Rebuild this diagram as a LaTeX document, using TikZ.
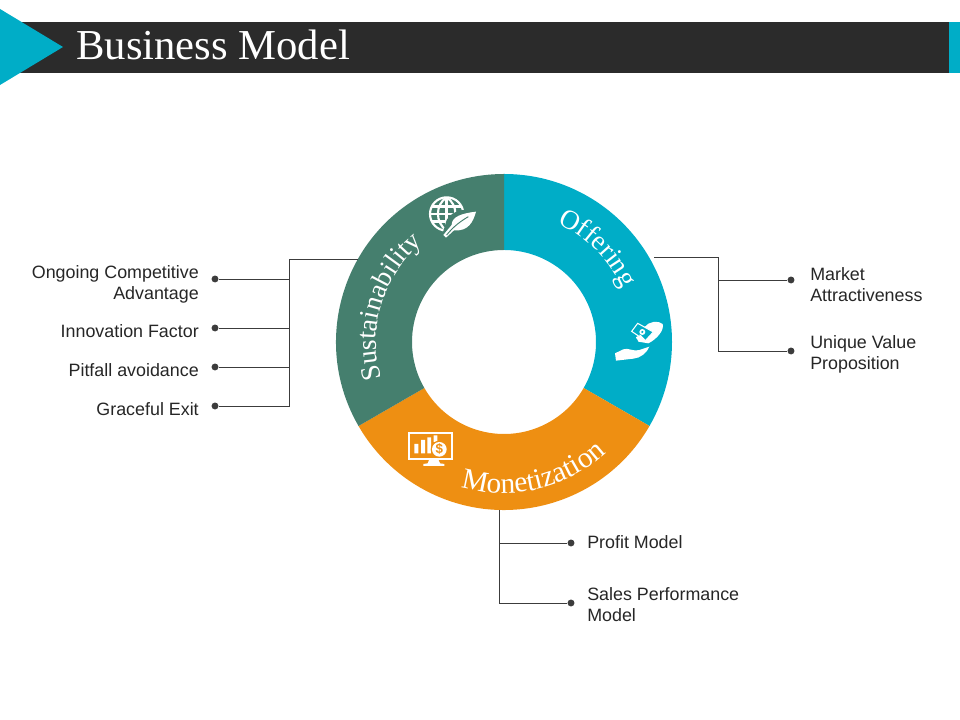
\documentclass[tikz,border=0pt]{standalone}
\usepackage{fontspec}
\setmainfont{Liberation Serif}
\setsansfont{Liberation Sans}
\usetikzlibrary{decorations.text,calc}
\definecolor{tealc}{RGB}{0,173,199}
\definecolor{greenc}{RGB}{69,127,110}
\definecolor{orangec}{RGB}{238,143,18}
\definecolor{barc}{RGB}{43,43,43}
\definecolor{linec}{RGB}{60,60,60}
\tikzset{
  conn/.style={draw=linec,line width=0.6pt},
  dotc/.style={circle,fill=linec,inner sep=0pt,minimum size=5.2pt},
  lbl/.style={font=\sffamily\fontsize{13.4}{15.8}\selectfont,text=black!85,inner sep=0pt},
  lbll/.style={lbl,anchor=east,align=right},
  lblr/.style={lbl,anchor=west,align=left},
  ringtext/.style={decorate,decoration={text along path,text align=center,text color=white}}
}
\newcommand{\ringfont}{\fontsize{20.5}{21}\selectfont}
\newcommand{\ringfontb}{\fontsize{22}{23}\selectfont}
\begin{document}
\begin{tikzpicture}[x=.75pt,y=.75pt]
\useasboundingbox (0,0) rectangle (960,720);
% header
\fill[barc] (20,647) rectangle (949,698);
\fill[tealc] (949,647) rectangle (960,698);
\fill[tealc] (0,711) -- (63,673) -- (0,635) -- cycle;
\node[anchor=base west,inner sep=0pt,text=white,font=\fontsize{32}{32}\selectfont] (title) at (76,660) {Business Model};
% ring
\coordinate (c) at (504,378);
\fill[tealc] (c) ++(90:168) arc (90:-30:168) -- ++(150:76) arc (-30:90:92) -- cycle;
\fill[orangec] (c) ++(-30:168) arc (-30:-150:168) -- ++(30:76) arc (-150:-30:92) -- cycle;
\fill[greenc] (c) ++(210:168) arc (210:90:168) -- ++(-90:76) arc (90:210:92) -- cycle;
% ring labels
\path[ringtext,decoration={text={|\ringfont|Sustainability}}] (c) ++(213:128) arc (213:113:128);
\path[ringtext,decoration={text={|\ringfont|Offering}}] (c) ++(95:130) arc (95:-5:130);
\path[ringtext,decoration={text={|\ringfontb|Monetization}}] (c) ++(-127:151) arc (-127:-27:151);
% connector anchors
\coordinate (sus) at (358,461);
\coordinate (off) at (654,463);
\coordinate (mon) at (499,210);
\coordinate (jl) at (289,461);
\coordinate (jr) at (718,463);
% dots
\node[dotc] (d1) at (215,441) {};
\node[dotc] (d2) at (215,392) {};
\node[dotc] (d3) at (215,353) {};
\node[dotc] (d4) at (215,314) {};
\node[dotc] (d5) at (791,440) {};
\node[dotc] (d6) at (791,369) {};
\node[dotc] (d7) at (571,177) {};
\node[dotc] (d8) at (571,117) {};
% connectors
\draw[conn] (sus) -- (jl) |- (d4);
\draw[conn] (jl |- d1) -- (d1);
\draw[conn] (jl |- d2) -- (d2);
\draw[conn] (jl |- d3) -- (d3);
\draw[conn] (off) -- (jr) |- (d6);
\draw[conn] (jr |- d5) -- (d5);
\draw[conn] (mon) |- (d8);
\draw[conn] (mon |- d7) -- (d7);
% labels
\node[lbll] (t1) at (199,436) {Ongoing Competitive\\Advantage};
\node[lbll] (t2) at (199,388.5) {Innovation Factor};
\node[lbll] (t3) at (199,349.5) {Pitfall avoidance};
\node[lbll] (t4) at (199,310.5) {Graceful Exit};
\node[lblr] (t5) at (810,435) {Market\\Attractiveness};
\node[lblr] (t6) at (810,366) {Unique Value\\Proposition};
\node[lblr] (t7) at (587,177.5) {Profit Model};
\node[lblr] (t8) at (587,115) {Sales Performance\\Model};
% globe + leaf icon (zoom coordinates)
\begin{scope}[shift={(330,555)},x=.25pt,y=-.25pt]
  \draw[white,line width=1.6pt] (350,147) circle (50);
  \begin{scope}
    \clip (350,147) circle (50);
    \draw[white,line width=1.8pt] (300,125) -- (400,125) (300,147) -- (400,147) (300,170) -- (400,170);
    \draw[white,line width=1.8pt] (350,95) -- (350,197);
    \draw[white,line width=1.6pt] (350,97) .. controls (315,120) and (315,172) .. (350,197);
    \draw[white,line width=1.6pt] (350,97) .. controls (385,120) and (385,172) .. (350,197);
  \end{scope}
  \fill[greenc] (335,215) -- (350,165) .. controls (370,130) and (410,135) .. (452,128) .. controls (445,170) and (425,210) .. (375,208) -- (350,230) -- cycle;
  \fill[white] (340,210) -- (365,180) .. controls (365,155) and (395,145) .. (438,140) .. controls (430,170) and (415,200) .. (372,196) -- (348,218) -- cycle;
  \draw[greenc,line width=.7pt] (350,210) .. controls (370,185) and (390,170) .. (415,155);
\end{scope}
% hand icon
\begin{scope}[shift={(590,420)},x=.25pt,y=-.25pt]
  \fill[white] (75,160) -- (100,148) .. controls (115,142) and (125,155) .. (148,150) -- (178,140) .. controls (172,158) and (150,175) .. (130,176) -- (78,182) -- cycle;
  \fill[white] (165,80) .. controls (175,65) and (205,60) .. (218,72) .. controls (224,90) and (200,118) .. (175,130) -- (145,125) -- (140,112) -- cycle;
  \filldraw[fill=tealc,draw=white,line width=.8pt] (143,70) -- (190,96) -- (166,122) -- (125,94) -- cycle;
  \fill[white] (157,96) circle (9);
  \fill[tealc] (157,96) circle (3.5);
  \draw[white,line width=1.2pt,line cap=round] (140,112) -- (150,122) (150,106) -- (163,120);
\end{scope}
% monitor icon
\begin{scope}[shift={(395,300)},x=.25pt,y=-.25pt]
  \draw[white,line width=1.3pt] (43,40) rectangle (172,118);
  \fill[white] (58,72) rectangle (70,100) (78,60) rectangle (90,100) (97,52) rectangle (108,100) (116,46) rectangle (127,66);
  \fill[orangec] (133,88) circle (26);
  \fill[white] (133,88) circle (22);
  \node[inner sep=0pt,text=orangec,font=\sffamily\bfseries\fontsize{10}{10}\selectfont] (dollar) at (133,88) {\$};
  \fill[white] (103,118) -- (130,118) -- (135,130) -- (148,132) -- (148,138) -- (85,138) -- (85,132) -- (98,130) -- cycle;
\end{scope}
\end{tikzpicture}
\end{document}
